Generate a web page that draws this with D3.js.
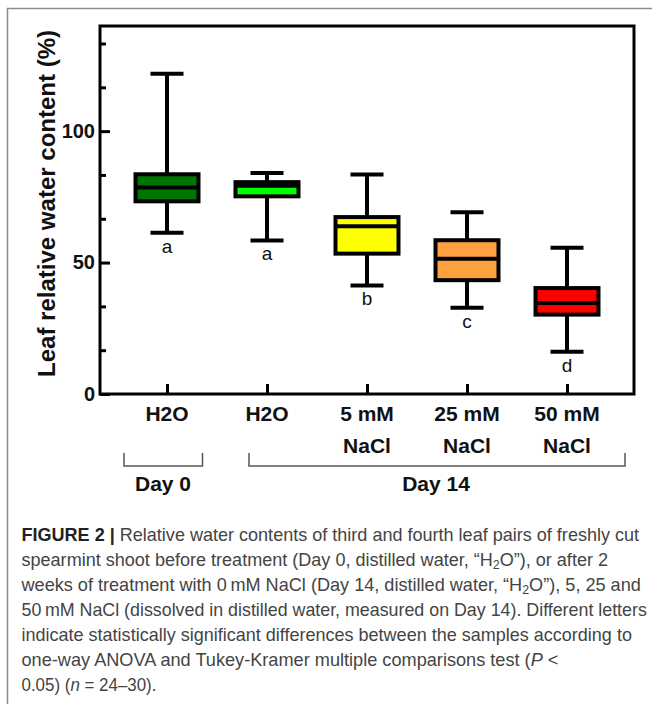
<!DOCTYPE html>
<html>
<head>
<meta charset="utf-8">
<script src="https://cdn.jsdelivr.net/npm/d3@7"></script>
<style>
  body { margin: 0; background: #fff; }
  svg { display: block; font-family: "Liberation Sans", Arial, sans-serif; }
</style>
</head>
<body>
<svg id="chart" width="652" height="704"></svg>
<script>
// values (leaf relative water content, %)
var groups = ["H2O", "H2O", "5 mM NaCl", "25 mM NaCl", "50 mM NaCl"];
var labelTop = ["H2O", "H2O", "5 mM", "25 mM", "50 mM"];
var labelBottom = ["", "", "NaCl", "NaCl", "NaCl"];
var whiskerLow = [61.3, 58.4, 41.3, 32.8, 16.1];
var q1 = [73.3, 75.2, 53.4, 43.3, 30.2];
var median = [78.6, 79.2, 63.8, 51.5, 34.6];
var q3 = [83.6, 80.6, 67.3, 58.5, 40.3];
var whiskerHigh = [121.8, 84.1, 83.5, 69.1, 55.6];
var letters = ["a", "a", "b", "c", "d"];
var fills = ["#007400", "#00ff00", "#ffff00", "#ffa040", "#ff0000"];
var majorTicks = [0, 50, 100];
var minorTicks = [50/3, 100/3, 200/3, 250/3, 350/3, 400/3];

var captionLines = [
  [["b", "FIGURE 2 | "], ["", "Relative water contents of third and fourth leaf pairs of freshly cut"]],
  [["", "spearmint shoot before treatment (Day 0, distilled water, \u201cH"], ["sub", "2"], ["up", "O\u201d), or after 2"]],
  [["", "weeks of treatment with 0\u2009mM NaCl (Day 14, distilled water, \u201cH"], ["sub", "2"], ["up", "O\u201d), 5, 25 and"]],
  [["", "50\u2009mM NaCl (dissolved in distilled water, measured on Day 14). Different letters"]],
  [["", "indicate statistically significant differences between the samples according to"]],
  [["", "one-way ANOVA and Tukey-Kramer multiple comparisons test ("], ["i", "P"], ["", " <"]],
  [["", "0.05) ("], ["i", "n"], ["", " = 24\u201330)."]]
];
var captionWidths = [618, 587, 621, 626, 611, 537, 135];

var svg = d3.select("#chart");
var plotL = 100, plotR = 634, plotT = 26, plotB = 394;

// outer frame of the figure panel
svg.append("rect").attr("x", 7.5).attr("y", 8.5).attr("width", 700).attr("height", 800)
  .attr("fill", "none").attr("stroke", "#8c8c8c").attr("stroke-width", 1.5);

var y = d3.scaleLinear().domain([0, 140]).range([plotB, plotT]);
var x = d3.scalePoint().domain(d3.range(groups.length)).range([plotL, plotR]).padding(0.67);

// y axis, ticks pointing inside
var yMajor = svg.append("g").attr("transform", "translate(" + plotL + ",0)")
  .call(d3.axisLeft(y).tickValues(majorTicks).tickSize(-10).tickPadding(5).tickFormat(d3.format("d")));
var yMinor = svg.append("g").attr("transform", "translate(" + plotL + ",0)")
  .call(d3.axisLeft(y).tickValues(minorTicks).tickSize(-6).tickFormat(""));
var xAx = svg.append("g").attr("transform", "translate(0," + plotB + ")")
  .call(d3.axisBottom(x).tickSize(-10).tickFormat(""));

[yMajor, yMinor, xAx].forEach(function(g) {
  g.select(".domain").remove();
  g.selectAll(".tick line").attr("stroke", "#000").attr("stroke-width", 3);
});
yMajor.selectAll(".tick text").attr("font-size", 20).attr("font-weight", "bold").attr("fill", "#111")
  .attr("font-family", "Liberation Sans, Arial, sans-serif");

svg.append("rect").attr("x", plotL).attr("y", plotT).attr("width", plotR - plotL).attr("height", plotB - plotT)
  .attr("fill", "none").attr("stroke", "#000").attr("stroke-width", 3);

// box plots
var bw = 63, cap = 33;
var box = svg.selectAll("g.box").data(groups).enter().append("g").attr("class", "box");

box.append("line")
  .attr("x1", function(d, i) { return x(i); }).attr("x2", function(d, i) { return x(i); })
  .attr("y1", function(d, i) { return y(whiskerHigh[i]); }).attr("y2", function(d, i) { return y(whiskerLow[i]); })
  .attr("stroke", "#000").attr("stroke-width", 4);
[whiskerHigh, whiskerLow].forEach(function(arr) {
  box.append("line")
    .attr("x1", function(d, i) { return x(i) - cap / 2; }).attr("x2", function(d, i) { return x(i) + cap / 2; })
    .attr("y1", function(d, i) { return y(arr[i]); }).attr("y2", function(d, i) { return y(arr[i]); })
    .attr("stroke", "#000").attr("stroke-width", 4);
});
box.append("rect")
  .attr("x", function(d, i) { return x(i) - bw / 2; })
  .attr("y", function(d, i) { return y(q3[i]); })
  .attr("width", bw)
  .attr("height", function(d, i) { return y(q1[i]) - y(q3[i]); })
  .attr("fill", function(d, i) { return fills[i]; })
  .attr("stroke", "#000").attr("stroke-width", 4);
box.append("line")
  .attr("x1", function(d, i) { return x(i) - bw / 2; }).attr("x2", function(d, i) { return x(i) + bw / 2; })
  .attr("y1", function(d, i) { return y(median[i]); }).attr("y2", function(d, i) { return y(median[i]); })
  .attr("stroke", "#000").attr("stroke-width", 4);
box.append("text")
  .attr("x", function(d, i) { return x(i); })
  .attr("y", function(d, i) { return y(whiskerLow[i]) + 20; })
  .attr("text-anchor", "middle").attr("font-size", 19).attr("fill", "#111")
  .text(function(d, i) { return letters[i]; });

// category labels
svg.selectAll("text.lab1").data(labelTop).enter().append("text").attr("class", "lab1")
  .attr("x", function(d, i) { return x(i); }).attr("y", 421)
  .attr("text-anchor", "middle").attr("font-size", 21).attr("font-weight", "bold").attr("fill", "#111")
  .text(function(d) { return d; });
svg.selectAll("text.lab2").data(labelBottom).enter().append("text").attr("class", "lab2")
  .attr("x", function(d, i) { return x(i); }).attr("y", 453)
  .attr("text-anchor", "middle").attr("font-size", 21).attr("font-weight", "bold").attr("fill", "#111")
  .text(function(d) { return d; });

// day brackets
var brackets = [[x(0) - 43, x(0) + 35.5], [x(1) - 18, x(4) + 58]];
brackets.forEach(function(b) {
  svg.append("path")
    .attr("d", "M" + b[0] + ",453V466H" + b[1] + "V453")
    .attr("fill", "none").attr("stroke", "#555").attr("stroke-width", 1.5);
});
svg.append("text").attr("x", 163).attr("y", 491).attr("text-anchor", "middle")
  .attr("font-size", 21).attr("font-weight", "bold").attr("fill", "#111").text("Day 0");
svg.append("text").attr("x", 436).attr("y", 491).attr("text-anchor", "middle")
  .attr("font-size", 21).attr("font-weight", "bold").attr("fill", "#111").text("Day 14");

// y title
svg.append("text")
  .attr("transform", "translate(55,203.5) rotate(-90)")
  .attr("text-anchor", "middle").attr("font-size", 23).attr("font-weight", "bold").attr("fill", "#111")
  .attr("textLength", 347).attr("lengthAdjust", "spacingAndGlyphs")
  .text("Leaf relative water content (%)");

// caption, each line squeezed to the width it has in the figure
captionLines.forEach(function(parts, li) {
  var g = svg.append("g");
  var t = g.append("text").attr("x", 0).attr("y", 0).attr("font-size", 17.5).attr("fill", "#444");
  parts.forEach(function(p) {
    var s = t.append("tspan").text(p[1]);
    if (p[0] === "b") s.attr("font-weight", "bold").attr("fill", "#222");
    if (p[0] === "i") s.attr("font-style", "italic");
    if (p[0] === "sub") s.attr("font-size", 12).attr("dy", 3);
    if (p[0] === "up") s.attr("dy", -3);
  });
  var w = t.node().getBBox().width;
  var k = captionWidths[li] / w;
  g.attr("transform", "translate(21.5," + (541 + li * 25) + ") scale(" + k + ",1)");
});
</script>
</body>
</html>
